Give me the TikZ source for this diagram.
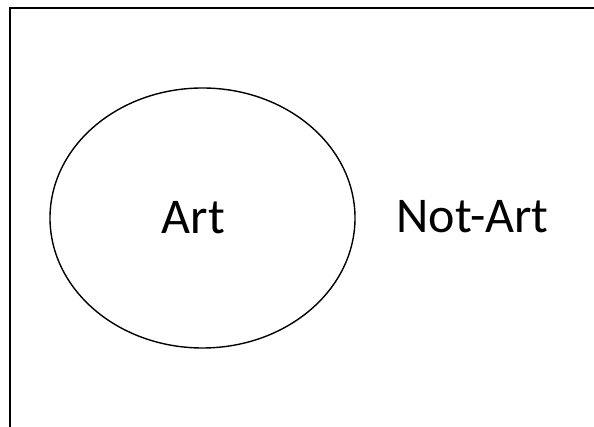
\documentclass[tikz,border=0pt]{standalone}
\usepackage{fontspec}
\setmainfont{Carlito}
\usetikzlibrary{shapes.geometric}

\begin{document}
\begin{tikzpicture}[
	x=1pt, y=1pt,
	frame/.style={line width=2pt},
	region/.style={
		ellipse,
		draw,
		line width=1.4pt,
		minimum width=305pt,
		minimum height=260pt,
		inner sep=0pt
	},
	label/.style={
		font=\fontsize{50}{58}\selectfont,
		anchor=base,
		inner sep=0pt
	}
	]

	\useasboundingbox (0,0) rectangle (594,427);

	% Universe (cut off at right and bottom)
	\draw[frame] (10,0) -- (10,419) -- (594,419);

	% Art set
	\node[region] (art) at (202.5,209) {};

	% Labels
	\node[label] (artlbl) at (193.5,193) {Art};
	\node[label] (notart) at (472.5,194) {Not-Art};

\end{tikzpicture}
\end{document}
